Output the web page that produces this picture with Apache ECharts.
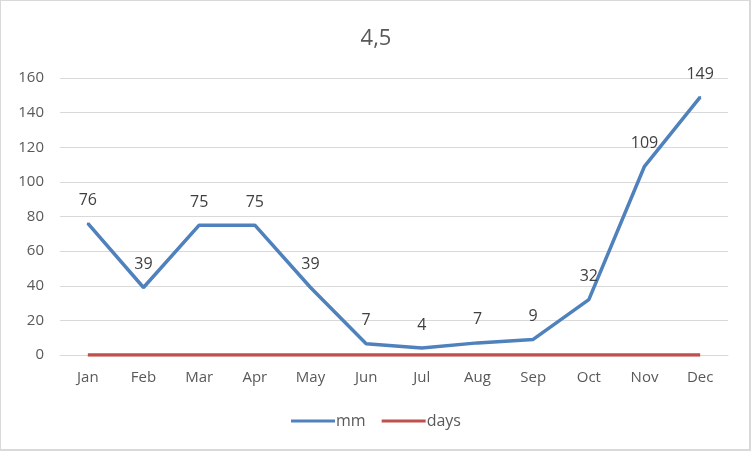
<!DOCTYPE html>
<html><head><meta charset="utf-8">
<script src="https://cdn.jsdelivr.net/npm/echarts@6/dist/echarts.min.js"></script>
<style>
html,body{margin:0;padding:0;background:#fff;}
#frame{position:absolute;left:0;top:0;width:748px;height:448px;border:1px solid #d9d9d9;border-right:2px solid #d9d9d9;border-bottom:2px solid #d9d9d9;}
#c{position:absolute;left:0;top:0;width:752px;height:452px;}
</style></head>
<body>
<div id="frame"></div>
<div id="c"></div>
<script>
var categories = ['Jan','Feb','Mar','Apr','May','Jun','Jul','Aug','Sep','Oct','Nov','Dec'];
var mm = [76, 39, 75, 75, 39, 6.5, 4, 7, 9, 32, 109, 149];
var mmLabels = ['76','39','75','75','39','7','4','7','9','32','109','149'];
var days = [0,0,0,0,0,0,0,0,0,0,0,0];
var yTicks = {min: 0, max: 160, interval: 20};

var font = 'Open Sans, Liberation Sans, sans-serif';
var chart = echarts.init(document.getElementById('c'), null, {renderer:'canvas'});
chart.setOption({
  animation: false,
  backgroundColor: 'transparent',
  title: {text: '4,5', left: 'center', top: 23, textStyle: {fontFamily: font, fontSize: 22, fontWeight: 'normal', color: '#595959'}},
  grid: {left: 60, right: 24, top: 78, bottom: 97, containLabel: false},
  legend: {
    bottom: 18, left: 'center', itemWidth: 44, itemHeight: 3, itemGap: 16,
    icon: 'rect',
    textStyle: {fontFamily: font, fontSize: 16, color: '#595959', padding: [0,0,0,-4]},
    data: ['mm','days']
  },
  xAxis: {
    type: 'category', data: categories, boundaryGap: true,
    axisLine: {show: true, lineStyle: {color: '#d9d9d9', width: 1}},
    axisTick: {show: false},
    axisLabel: {fontFamily: font, fontSize: 15, color: '#595959', margin: 15}
  },
  yAxis: {
    type: 'value', min: yTicks.min, max: yTicks.max, interval: yTicks.interval,
    axisLine: {show: false}, axisTick: {show: false},
    splitLine: {lineStyle: {color: '#d9d9d9', width: 1}},
    axisLabel: {fontFamily: font, fontSize: 15, color: '#595959', margin: 16}
  },
  series: [
    {
      name: 'mm', type: 'line', data: mm, symbol: 'circle', symbolSize: 2, showSymbol: true, smooth: false,
      lineStyle: {color: '#4f81bd', width: 3.5}, itemStyle: {color: '#4f81bd'},
      label: {show: true, position: 'top', distance: 14, fontFamily: font, fontSize: 16, color: '#404040',
        formatter: function(p){ return mmLabels[p.dataIndex]; }},
      labelLayout: {hideOverlap: false},
      z: 3
    },
    {
      name: 'days', type: 'line', data: days, symbol: 'none',
      lineStyle: {color: '#c0504d', width: 3.5}, itemStyle: {color: '#c0504d'},
      z: 2
    }
  ]
});
</script>
</body></html>
